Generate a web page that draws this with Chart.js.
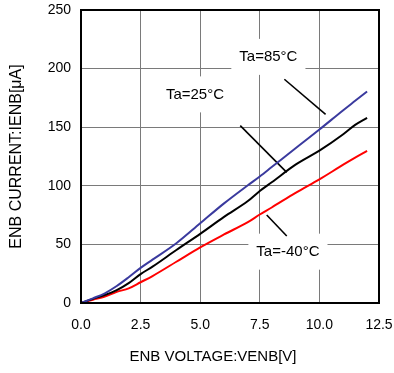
<!DOCTYPE html>
<html>
<head>
<meta charset="utf-8">
<script src="https://cdn.jsdelivr.net/npm/chart.js@4/dist/chart.umd.min.js"></script>
<style>
  html, body { margin: 0; padding: 0; background: #fff; }
  canvas { display: block; }
</style>
</head>
<body>
<canvas id="enbChart" width="394" height="373" style="width:394px;height:373px"></canvas>
<script>
// ENB voltage (V) sample points
const voltage = [0, 0.5, 1, 1.5, 2, 2.5, 3, 4, 5, 6, 7, 7.5, 8, 9, 10, 11, 11.5, 12];
// ENB current (uA) per ambient temperature
const current85 = [0, 4, 8.3, 14.5, 22, 30, 37, 51, 68, 85, 100.5, 108, 116, 132, 148, 164.5, 172.5, 180.5];
const current25 = [0, 3.5, 6.8, 11, 17, 24.7, 31, 45.2, 59, 73.5, 87, 95.6, 103, 118, 130, 144, 152, 158];
const currentM40 = [0, 2.8, 5.4, 9.5, 12.5, 17.7, 23, 35.2, 47.5, 58.5, 69, 75.5, 81.5, 94, 105.5, 118, 124, 129.7];

const xTicks = [0, 2.5, 5, 7.5, 10, 12.5];
const yTicks = [0, 50, 100, 150, 200, 250];

// label text, label anchor and leader line (data units)
const labelText = ['Ta=85\u00B0C', 'Ta=25\u00B0C', 'Ta=-40\u00B0C'];
const labelPos = [[7.86, 210], [4.78, 178], [8.68, 43.8]];
const leaderFrom = [[8.53, 190.9], [6.68, 151.3], [7.79, 75.1]];
const leaderTo = [[10.26, 161.0], [8.63, 111.5], [8.63, 57.2]];

const toPoints = (ys) => voltage.map((v, i) => ({ x: v, y: ys[i] }));

const FONT = '"Liberation Sans", Arial, sans-serif';

const labelsPlugin = {
  id: 'tempLabels',
  beforeDatasetsDraw(chart) {
    const { ctx, scales: { x, y } } = chart;
    ctx.save();
    ctx.font = '15px ' + FONT;
    ctx.textAlign = 'center';
    ctx.textBaseline = 'middle';
    labelText.forEach((t, i) => {
      const px = x.getPixelForValue(labelPos[i][0]);
      const py = y.getPixelForValue(labelPos[i][1]);
      const w = ctx.measureText(t).width;
      ctx.fillStyle = '#fff';
      ctx.fillRect(px - w / 2 - 8, py - 18, w + 16, 36);
      ctx.fillStyle = '#000';
      ctx.fillText(t, px, py);
    });
    // leader lines
    ctx.strokeStyle = '#000';
    ctx.lineWidth = 1.6;
    leaderFrom.forEach((p, i) => {
      ctx.beginPath();
      ctx.moveTo(x.getPixelForValue(p[0]), y.getPixelForValue(p[1]));
      ctx.lineTo(x.getPixelForValue(leaderTo[i][0]), y.getPixelForValue(leaderTo[i][1]));
      ctx.stroke();
    });
    ctx.restore();
  },
  afterDraw(chart) {
    const { ctx, chartArea: a } = chart;
    ctx.save();
    ctx.strokeStyle = '#000';
    ctx.lineWidth = 2;
    ctx.strokeRect(a.left, a.top, a.right - a.left, a.bottom - a.top);
    // x axis title
    ctx.font = '15px ' + FONT;
    ctx.fillStyle = '#000';
    ctx.textAlign = 'center';
    ctx.textBaseline = 'middle';
    ctx.fillText('ENB VOLTAGE:VENB[V]', 213, 357);
    ctx.restore();
  }
};

new Chart(document.getElementById('enbChart'), {
  type: 'line',
  data: {
    datasets: [
      { label: 'Ta=85\u00B0C', data: toPoints(current85), borderColor: '#3a3a9e', borderWidth: 2 },
      { label: 'Ta=25\u00B0C', data: toPoints(current25), borderColor: '#000000', borderWidth: 2 },
      { label: 'Ta=-40\u00B0C', data: toPoints(currentM40), borderColor: '#ff0000', borderWidth: 2 }
    ]
  },
  options: {
    responsive: false,
    animation: false,
    layout: { padding: { left: 0, top: 10, right: 15, bottom: 0 } },
    elements: {
      point: { radius: 0 },
      line: { tension: 0.2, cubicInterpolationMode: 'monotone' }
    },
    plugins: {
      legend: { display: false },
      tooltip: { enabled: false }
    },
    scales: {
      x: {
        type: 'linear',
        min: 0,
        max: 12.5,
        afterBuildTicks: (s) => { s.ticks = xTicks.map(v => ({ value: v })); },
        afterFit: (s) => { s.height = 70; s.paddingLeft = 0; s.paddingRight = 0; },
        ticks: {
          color: '#000',
          font: { family: FONT, size: 14 },
          padding: 14,
          maxRotation: 0,
          callback: (v) => Number(v).toFixed(1)
        },
        grid: { color: '#7a7a7a', lineWidth: 1, drawTicks: false },
        border: { color: '#000', width: 2 }
      },
      y: {
        type: 'linear',
        min: 0,
        max: 250,
        afterBuildTicks: (s) => { s.ticks = yTicks.map(v => ({ value: v })); },
        afterFit: (s) => { s.width = 81; s.paddingTop = 0; s.paddingBottom = 0; },
        ticks: {
          color: '#000',
          font: { family: FONT, size: 14 },
          padding: 10
        },
        grid: { color: '#7a7a7a', lineWidth: 1, drawTicks: false },
        border: { color: '#000', width: 2 },
        title: {
          display: true,
          text: 'ENB CURRENT:IENB[\u03BCA]',
          color: '#000',
          font: { family: FONT, size: 16 },
          padding: { top: 6.5, bottom: 0 }
        }
      }
    }
  },
  plugins: [labelsPlugin]
});
</script>
</body>
</html>
